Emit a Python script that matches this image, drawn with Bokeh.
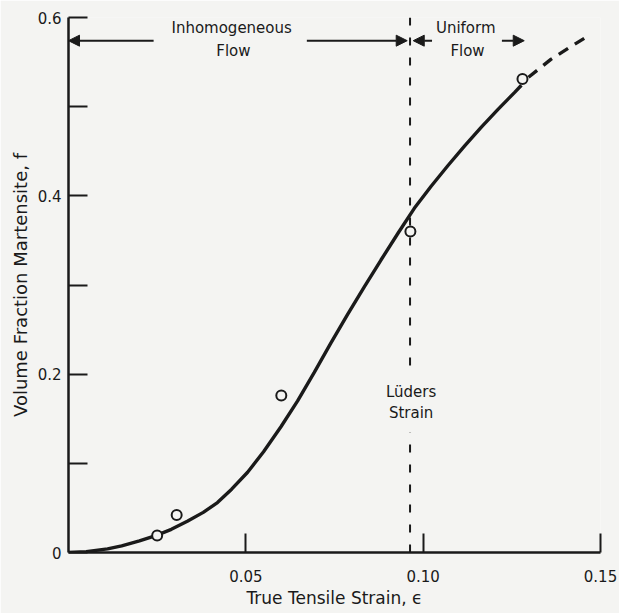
from bokeh.plotting import figure
from bokeh.models import Range1d, FixedTicker, Arrow, NormalHead, Label, NumeralTickFormatter
from bokeh.embed import file_html
from bokeh.resources import INLINE

# fitted curve (solid part)
curve_x = [0, 0.005, 0.011, 0.015, 0.020, 0.0246, 0.029, 0.0335, 0.038, 0.042, 0.046,
           0.0505, 0.055, 0.0599, 0.0646, 0.0693, 0.074, 0.0787, 0.0834, 0.0881, 0.0929,
           0.0975, 0.1023, 0.107, 0.1117, 0.1164, 0.1211, 0.1258, 0.1277]
curve_y = [0, 0.001, 0.004, 0.0075, 0.013, 0.019, 0.026, 0.035, 0.045, 0.056, 0.071,
           0.090, 0.113, 0.141, 0.170, 0.202, 0.235, 0.267, 0.298, 0.328, 0.358,
           0.386, 0.411, 0.434, 0.456, 0.477, 0.497, 0.516, 0.524]
# dashed extrapolation
ext_x = [0.1297, 0.136, 0.1415, 0.146]
ext_y = [0.533, 0.553, 0.567, 0.578]
# measured points
meas_x = [0.025, 0.0305, 0.060, 0.0964, 0.128]
meas_y = [0.019, 0.042, 0.176, 0.360, 0.531]
# Lüders strain
luders_strain = 0.0963

x_ticks = [0.05, 0.10, 0.15]
y_ticks = [0, 0.2, 0.4, 0.6]
y_minor_ticks = [0.1, 0.3, 0.5]

FONT = "DejaVu Sans"
BG = "#f4f4f2"
INK = "#1a1a1a"

p = figure(frame_width=532, frame_height=535,
           x_range=Range1d(0, 0.15), y_range=Range1d(0, 0.6),
           output_backend="svg", toolbar_location=None,
           min_border_left=68, min_border_top=17, min_border_right=19, min_border_bottom=61,
           background_fill_color=BG, border_fill_color=BG)
p.outline_line_color = None
p.grid.visible = False

# axes
p.xaxis.ticker = FixedTicker(ticks=x_ticks)
p.xaxis.formatter = NumeralTickFormatter(format="0.00")
p.yaxis.ticker = FixedTicker(ticks=y_ticks, minor_ticks=y_minor_ticks)
p.yaxis.major_label_overrides = {0: "0"}
for ax in (p.xaxis[0], p.yaxis[0]):
    ax.axis_line_width = 2.5
    ax.axis_line_color = INK
    ax.major_tick_line_width = 2
    ax.major_tick_line_color = INK
    ax.major_tick_in = 19
    ax.major_tick_out = 0
    ax.minor_tick_line_width = 2
    ax.minor_tick_line_color = INK
    ax.minor_tick_in = 19
    ax.minor_tick_out = 0
    ax.major_label_text_font = FONT
    ax.major_label_text_font_size = "15px"
    ax.major_label_text_color = INK
    ax.axis_label_text_font = FONT
    ax.axis_label_text_font_style = "normal"
    ax.axis_label_text_color = INK
p.xaxis.minor_tick_line_color = None
p.xaxis.axis_label = "True Tensile Strain, \u03f5"
p.xaxis.axis_label_text_font_size = "17px"
p.xaxis.major_label_standoff = 17
p.xaxis.axis_label_standoff = 3
p.yaxis.axis_label = "Volume Fraction Martensite, f"
p.yaxis.axis_label_text_font_size = "18px"
p.yaxis.major_label_standoff = 7
p.yaxis.axis_label_standoff = 4

# Lüders strain line (with gap for its label)
p.segment(x0=[luders_strain, luders_strain], y0=[0, 0.6],
          x1=[luders_strain, luders_strain], y1=[0.135, 0.197],
          line_color=INK, line_width=2, line_dash="8 12")

# curve
p.line(curve_x, curve_y, line_color=INK, line_width=3.4)
p.line(ext_x, ext_y, line_color=INK, line_width=3.4, line_dash="11 8")

# data points
p.scatter(meas_x, meas_y, marker="circle", size=10, fill_color=BG,
          line_color=INK, line_width=2)

# annotations
arrow_y = 0.574
for xs, xe in [(0.024, 0.0), (0.0672, 0.0955), (0.1025, 0.0972), (0.1222, 0.1285)]:
    p.add_layout(Arrow(end=NormalHead(size=11, line_color=INK, fill_color=INK, line_width=1),
                       x_start=xs, y_start=arrow_y, x_end=xe, y_end=arrow_y,
                       line_color=INK, line_width=2))

for x, y, t in [(0.046, 0.588, "Inhomogeneous"), (0.0465, 0.562, "Flow"),
                (0.112, 0.588, "Uniform"), (0.1125, 0.562, "Flow"),
                (0.0966, 0.180, "Lüders"), (0.0966, 0.157, "Strain")]:
    p.add_layout(Label(x=x, y=y, text=t, text_align="center", text_baseline="middle",
                       text_font=FONT, text_font_size="15px", text_color=INK))

open("out.html", "w").write(file_html(p, INLINE))
